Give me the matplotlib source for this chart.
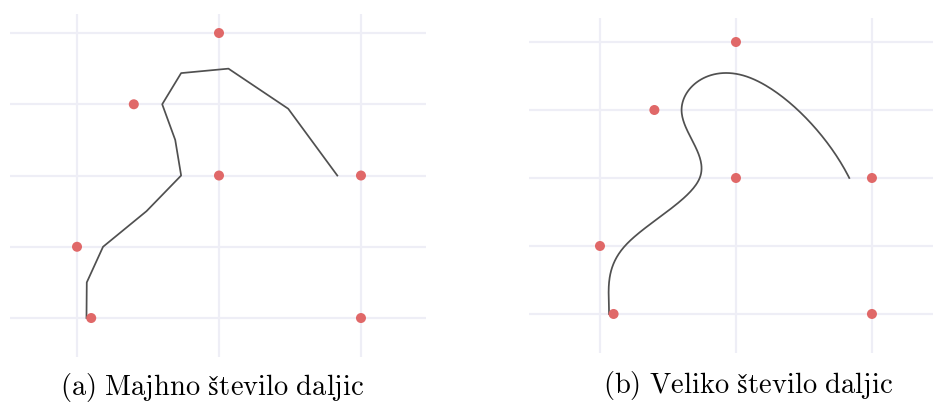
import numpy as np
import matplotlib.pyplot as plt

plt.rcParams['mathtext.fontset'] = 'cm'

# control points of the cubic B-spline (first one is a phantom point below the view)
ctrl_x = [0.0, 0.1, 0.0, 1.0, 0.4, 1.0, 2.0, 2.0]
ctrl_y = [-1.0, 0.0, 1.0, 2.0, 3.0, 4.0, 2.0, 0.0]

grid_x = [0, 1, 2]
grid_y = [0, 1, 2, 3, 4]

captions = [r'$\mathrm{(a)\ Majhno\ število\ daljic}$',
            r'$\mathrm{(b)\ Veliko\ število\ daljic}$']
steps = [2, 60]   # samples per spline segment


def bspline(px, py, n):
    # uniform cubic B-spline, each segment cut into n straight pieces
    P = np.column_stack([px, py])
    M = np.array([[-1, 3, -3, 1],
                  [3, -6, 3, 0],
                  [-3, 0, 3, 0],
                  [1, 4, 1, 0]]) / 6.0
    pts = []
    for i in range(len(P) - 3):
        t = np.linspace(0, 1, n + 1)
        if i > 0:
            t = t[1:]
        T = np.column_stack([t**3, t**2, t, np.ones_like(t)])
        pts.append(T @ M @ P[i:i + 4])
    return np.vstack(pts)


fig = plt.figure(figsize=(9.33, 4.05), dpi=100)
W, H = 933, 405
boxes = [(10, 14, 426, 357), (529, 18, 933, 353)]
xlims = [(-0.472, 2.458), (-0.522, 2.449)]
ylims = [(-0.547, 4.267), (-0.574, 4.353)]
cap_pos = [(212, 387), (748, 385)]

for k in range(2):
    x0, y0, x1, y1 = boxes[k]
    ax = fig.add_axes([x0 / W, 1 - y1 / H, (x1 - x0) / W, (y1 - y0) / H])
    ax.set_xlim(*xlims[k])
    ax.set_ylim(*ylims[k])
    ax.set_xticks(grid_x)
    ax.set_yticks(grid_y)
    ax.tick_params(length=0, labelbottom=False, labelleft=False)
    for s in ax.spines.values():
        s.set_visible(False)
    ax.grid(True, color='#eeeef6', linewidth=1.6)
    ax.set_axisbelow(True)

    curve = bspline(ctrl_x, ctrl_y, steps[k])
    ax.plot(curve[:, 0], curve[:, 1], color='#505050', linewidth=1.25, zorder=2)
    ax.scatter(ctrl_x, ctrl_y, s=52, color='#e06868', edgecolors='none', zorder=3)

    fig.text(cap_pos[k][0] / W, 1 - cap_pos[k][1] / H, captions[k],
             ha='center', va='center', fontsize=20.5)

fig.savefig('out.png', dpi=100)
